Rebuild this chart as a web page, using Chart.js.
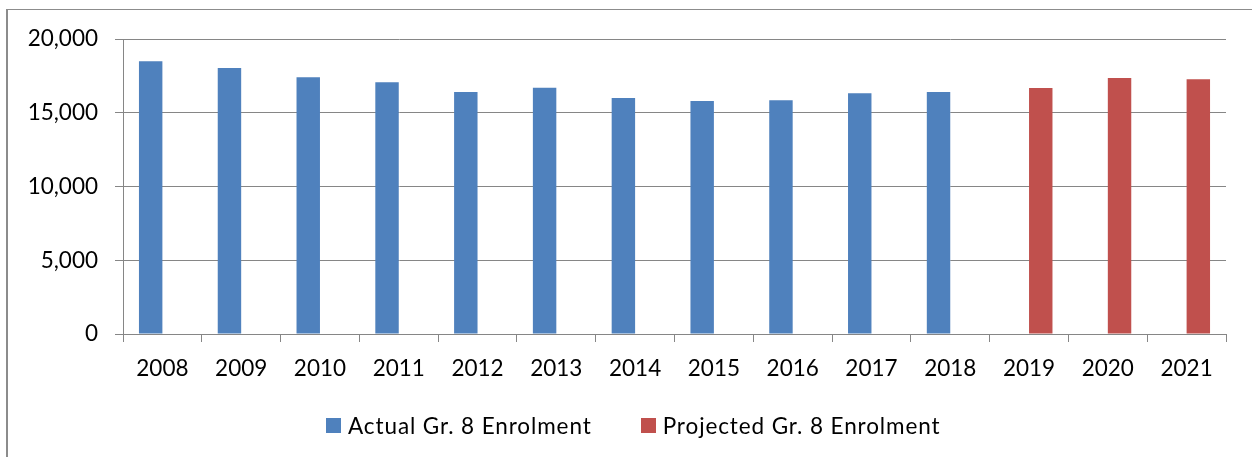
<!DOCTYPE html>
<html>
<head>
<meta charset="utf-8">
<script src="https://cdn.jsdelivr.net/npm/chart.js@4"></script>
<style>
  body { margin: 0; background: #fff; }
  #wrap { position: relative; width: 1252px; height: 457px; overflow: hidden; }
  #frame {
    position: absolute; left: 6px; top: 9px; width: 1300px; height: 500px;
    border-left: 2px solid #8c8c8c; border-top: 1px solid #8c8c8c;
  }
  #chart { position: absolute; left: 0; top: 0; }
  #legend {
    position: absolute; left: 326px; top: 412px; height: 27px;
    display: flex; align-items: center;
    font-family: Lato, "Open Sans", sans-serif; font-size: 22.5px;
    letter-spacing: 0.9px; color: #000; white-space: nowrap;
  }
  .item { display: flex; align-items: center; margin-right: 49px; }
  .box { width: 15px; height: 15px; margin-right: 7px; flex: none; }
</style>
</head>
<body>
<div id="wrap">
  <div id="frame"></div>
  <canvas id="chart" width="1252" height="457"></canvas>
  <div id="legend"></div>
</div>
<script>
// Category labels (school years)
const years = ["2008", "2009", "2010", "2011", "2012", "2013", "2014",
  "2015", "2016", "2017", "2018", "2019", "2020", "2021"];

// Grade 8 enrolment
const actualEnrolment = [18500, 18030, 17400, 17060, 16410, 16700, 16000,
  15800, 15840, 16320, 16410, null, null, null];
const projectedEnrolment = [null, null, null, null, null, null, null,
  null, null, null, null, 16680, 17360, 17270];

const seriesLabels = ["Actual Gr. 8 Enrolment", "Projected Gr. 8 Enrolment"];
const yTicks = [0, 5000, 10000, 15000, 20000];

const gridColor = "#868686";
const fontFamily = "Lato, 'Open Sans', sans-serif";

const ctx = document.getElementById("chart");

let chart = new Chart(ctx, {
  type: "bar",
  data: {
    labels: years,
    datasets: [
      {
        label: seriesLabels[0],
        data: actualEnrolment,
        backgroundColor: "#4F81BD",
      },
      {
        label: seriesLabels[1],
        data: projectedEnrolment,
        backgroundColor: "#C0504D",
      },
    ],
  },
  options: {
    responsive: false,
    animation: false,
    categoryPercentage: 0.595,
    barPercentage: 1,
    layout: {
      padding: { left: 0, top: 39, right: 26, bottom: 73 },
    },
    plugins: {
      legend: { display: false }, // legend is drawn as html below
      tooltip: { enabled: false },
    },
    scales: {
      x: {
        offset: true,
        grid: {
          offset: true,
          drawOnChartArea: false,
          color: gridColor,
          tickLength: 8,
        },
        border: { color: gridColor },
        ticks: {
          color: "#000",
          padding: 13,
          maxRotation: 0,
          font: { family: fontFamily, size: 22.5 },
        },
        afterFit: (scale) => {
          scale.height = 50;
        },
      },
      y: {
        min: 0,
        max: 20000,
        afterBuildTicks: (scale) => {
          scale.ticks = yTicks.map((v) => ({ value: v }));
        },
        grid: { color: gridColor, tickLength: 8 },
        border: { color: gridColor },
        ticks: {
          color: "#000",
          padding: 17,
          font: { family: fontFamily, size: 22.5 },
          callback: (v) => v.toLocaleString("en-US"),
        },
        afterFit: (scale) => {
          scale.width = 123;
        },
      },
    },
  },
});

// Build the legend from the chart's datasets
const legend = document.getElementById("legend");
chart.data.datasets.forEach((ds) => {
  const item = document.createElement("div");
  item.className = "item";
  const box = document.createElement("span");
  box.className = "box";
  box.style.background = ds.backgroundColor;
  const text = document.createElement("span");
  text.textContent = ds.label;
  item.appendChild(box);
  item.appendChild(text);
  legend.appendChild(item);
});
</script>
</body>
</html>
